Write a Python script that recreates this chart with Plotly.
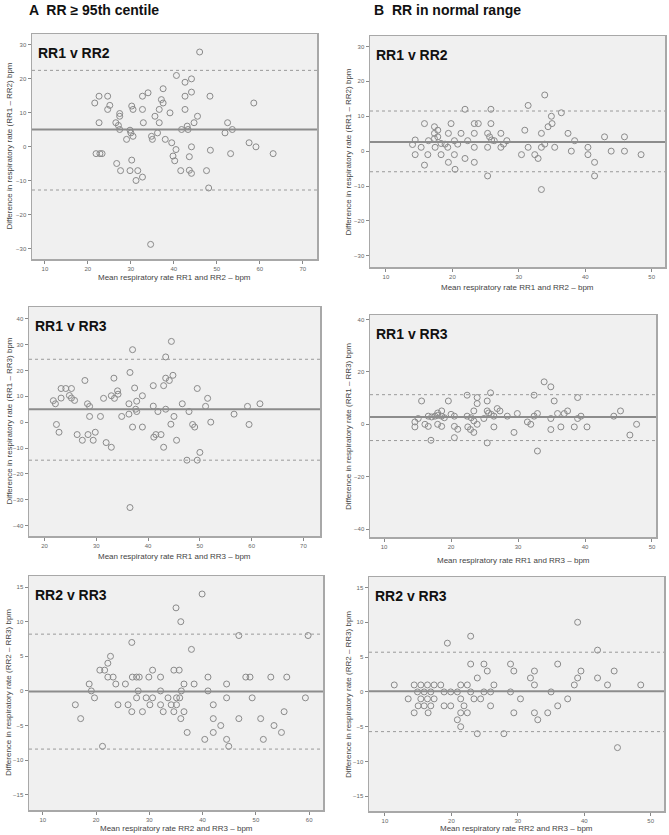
import plotly.graph_objects as go

W, H = 669, 835

# ---------------- data ----------------
# Panel A1: RR >= 95th centile, RR1 v RR2
a1_mean = [21.6, 22.6, 22.6, 21.9, 22.8, 23.3, 24.6, 24.6, 25.1, 26.5, 27.1, 27.4, 27.4, 27.4, 26.7, 27.6,
           29.0, 29.8, 30.0, 30.2, 30.5, 30.2, 29.8, 30.5, 31.2, 31.6, 32.7, 32.7, 32.9, 32.7, 34.0, 34.8,
           35.0, 35.6, 36.6, 36.6, 36.2, 37.1, 37.5, 37.5, 38.0, 39.1, 39.5, 39.8, 40.2, 40.5, 40.6, 41.8,
           41.6, 42.6, 42.6, 42.6, 43.1, 43.3, 43.6, 43.6, 44.1, 44.1, 44.1, 44.1, 44.7, 45.5, 46.0, 47.6,
           48.4, 48.5, 48.1, 51.9, 52.5, 53.2, 53.6, 57.5, 58.6, 59.1, 63.1, 34.6]
a1_diff = [12.9, 14.9, 7.1, -2.0, -2.0, -2.0, 14.9, 11.0, 12.2, 7.1, 6.3, 9.8, 9.0, 5.1, -4.9, -7.0,
           2.2, 4.9, 4.1, 12.0, 11.0, -3.9, -7.0, 3.1, -9.9, -7.0, 14.9, 11.0, 7.1, -8.9, 15.9, 3.1,
           2.2, 9.0, 11.0, 7.1, 4.1, 13.9, 12.9, 17.1, 2.2, 10.0, 1.2, -2.7, -4.1, -0.8, 21.0, 5.1,
           -7.0, 19.0, 14.9, 11.0, 6.1, 5.1, -2.9, -6.9, -7.8, 20.0, 16.1, 0.0, 7.1, 9.0, 27.9, -7.0,
           14.9, -1.0, -12.1, 4.1, 7.1, -2.0, 5.1, 1.2, 12.9, 0.0, -2.0, -28.7]
a1_lines = [5.1, 22.5, -12.7]  # mean difference, upper and lower limits of agreement

# Panel B1: RR in normal range, RR1 v RR2
b1_mean = [14.0, 14.4, 14.4, 15.3, 15.8, 15.8, 16.3, 16.4, 17.3, 17.3, 17.3, 17.4, 17.8, 17.8, 18.3, 18.3,
           18.9, 19.3, 19.4, 19.4, 19.8, 20.3, 20.3, 20.4, 20.8, 21.3, 21.9, 21.9, 22.3, 23.3, 23.3, 23.3,
           23.3, 23.9, 25.3, 25.3, 25.3, 25.6, 25.8, 25.8, 25.9, 26.3, 27.3, 27.3, 27.7, 28.2, 30.4, 30.9,
           31.4, 31.4, 32.4, 32.9, 33.4, 33.4, 33.4, 33.9, 33.9, 34.4, 34.9, 35.0, 35.4, 36.4, 37.4, 37.9,
           38.4, 40.4, 40.4, 41.4, 41.4, 42.9, 43.9, 45.9, 45.9, 48.4]
b1_diff = [1.9, 3.2, -1.0, 1.1, 7.9, -4.0, -1.0, 3.0, 7.0, 5.1, 3.6, 1.1, 6.0, 4.1, 2.2, -1.0,
           2.0, 1.1, 5.1, -3.2, 7.9, -1.0, 3.0, -5.2, 2.0, 5.1, -2.1, 12.0, 3.0, 7.9, 5.1, 1.1,
           -3.2, 7.9, 5.1, 1.1, -7.1, 4.1, 12.0, 7.9, 3.2, 3.0, 5.1, 1.1, 2.0, 3.0, -1.0, 6.0,
           13.1, 1.1, -1.0, -2.1, 5.1, 1.1, -11.0, 16.1, 2.0, 7.0, 10.0, 7.9, 1.1, 11.0, 5.1, 0.0,
           3.0, 1.1, -1.0, -3.2, -7.1, 4.1, 0.0, 4.1, 0.0, -1.0]
b1_lines = [2.6, 11.5, -5.9]

# Panel A2: RR >= 95th centile, RR1 v RR3
a2_mean = [21.7, 22.1, 22.3, 22.8, 23.2, 23.2, 24.1, 25.2, 24.8, 25.2, 25.8, 26.3, 27.3, 27.8, 28.3, 28.4,
           28.7, 28.7, 29.4, 29.8, 30.8, 31.4, 31.9, 32.9, 32.9, 33.4, 33.5, 34.1, 34.2, 34.9, 36.3, 36.3,
           36.5, 36.5, 37.0, 37.0, 37.4, 37.6, 37.8, 37.8, 38.9, 38.9, 41.0, 41.0, 41.1, 41.5, 41.9, 42.5,
           43.0, 43.0, 43.4, 43.4, 43.4, 44.1, 44.4, 44.5, 44.8, 45.0, 45.5, 46.6, 47.5, 47.9, 48.6, 49.0,
           49.5, 49.5, 50.0, 51.1, 51.5, 52.1, 56.6, 59.2, 59.5, 61.6]
a2_diff = [8.3, 7.1, -0.9, -3.9, 9.3, 13.0, 13.0, 13.0, 10.3, 9.3, 8.4, -4.8, -7.0, 16.1, 7.1, -4.8,
           6.1, 2.2, -7.0, -3.9, 2.2, 9.2, -7.9, -9.7, 10.2, 17.0, 9.2, 12.1, 10.8, 2.2, 7.1, 3.1,
           19.2, -33.0, 28.0, -1.9, 13.2, 5.0, 4.1, 8.1, -1.9, 10.2, 14.1, 6.2, -5.8, -4.8, 4.1, -4.8,
           14.1, -9.7, 25.2, 17.0, 5.0, 16.1, -0.8, 31.2, 18.1, 2.2, -7.0, 7.1, -14.7, 4.1, -0.9, -1.9,
           13.0, -14.7, -11.7, 6.1, 9.2, 0.0, 3.1, 6.1, -0.9, 7.1]
a2_lines = [5.0, 24.3, -14.7]

# Panel B2: RR in normal range, RR1 v RR3
b2_mean = [14.6, 14.6, 15.1, 15.6, 16.1, 16.6, 16.6, 17.0, 17.1, 17.6, 18.0, 18.0, 18.0, 18.6, 18.6, 18.6,
           19.0, 19.6, 20.0, 20.5, 20.5, 20.5, 21.0, 22.4, 22.4, 22.5, 22.9, 23.0, 23.4, 23.4, 23.9, 23.9,
           23.9, 23.4, 24.9, 25.4, 25.4, 25.4, 25.6, 25.9, 26.0, 26.4, 26.4, 26.9, 27.3, 28.4, 29.4, 29.9,
           31.4, 31.9, 32.4, 32.4, 32.9, 32.9, 33.9, 34.9, 34.9, 34.9, 35.4, 35.9, 36.4, 36.9, 37.4, 38.4,
           38.9, 38.9, 39.4, 40.3, 44.3, 45.3, 46.7, 47.7]
b2_diff = [-1.0, 0.9, 2.2, 8.9, 0.0, -0.8, 3.1, -6.1, 2.8, 3.1, 3.4, 0.0, 4.3, 5.1, -0.8, 3.1,
           2.5, 8.9, 3.8, 3.1, -0.8, -5.1, -1.9, 11.1, 3.1, -1.0, -2.0, 2.5, 5.1, -3.1, 10.2, 7.9,
           0.0, 1.3, 2.2, 8.9, 5.1, -7.1, 4.3, 12.0, 3.8, 3.1, -1.0, 6.0, 5.1, 3.1, -3.1, 4.1,
           0.9, 0.0, 11.1, 3.1, 4.1, -10.2, 16.2, 14.3, 2.2, -2.0, 8.9, 4.1, -1.0, 4.1, 5.1, -1.0,
           10.2, 2.2, 3.1, -1.0, 3.1, 5.1, -4.1, 0.0]
b2_lines = [2.8, 11.3, -6.2]

# Panel A3: RR >= 95th centile, RR2 v RR3
a3_mean = [16.1, 17.1, 18.7, 19.1, 19.7, 20.7, 21.6, 21.2, 22.2, 22.7, 22.2, 23.2, 23.7, 24.1, 25.5, 26.0,
           26.7, 26.7, 26.8, 27.6, 28.1, 27.6, 27.9, 28.7, 29.4, 29.9, 30.1, 30.6, 30.6, 32.1, 32.1, 32.1,
           32.6, 33.5, 34.1, 34.6, 34.6, 35.0, 35.1, 35.6, 35.7, 35.1, 35.9, 36.0, 35.9, 36.5, 36.5, 37.1,
           37.9, 38.4, 39.9, 40.4, 41.0, 41.0, 42.0, 42.0, 42.0, 43.4, 44.5, 44.5, 44.5, 44.9, 46.8, 46.8,
           48.1, 48.9, 49.3, 50.9, 51.4, 52.8, 53.4, 54.8, 55.3, 55.8, 59.3, 59.8]
a3_diff = [-2, -4, 1, 0, -1, 3, 3, -8, 4, 5, 2, 2, 1, -2, 1, -2,
           7, -3, 2, 2, 2, -1, 0, -3, -1, 2, -2, 3, -1, 2, 0, -2,
           -3, -1, -2, 3, -3, 12, -1, 3, -1, -2, 10, 0, -4, 1, -3, -6,
           6, 1, 14, -7, 2, 0, -2, -4, -6, -5, 1, -1, -7, -8, 8, -4,
           2, 2, -1, -4, -7, 2, -5, -6, -3, 2, -1, 8]
a3_lines = [-0.1, 8.2, -8.4]

# Panel B3: RR in normal range, RR2 v RR3
b3_mean = [11.4, 13.5, 14.4, 14.4, 14.9, 15.0, 15.4, 15.4, 15.9, 15.9, 16.4, 16.4, 16.5, 16.9, 16.9, 17.4,
           17.4, 18.4, 18.9, 18.9, 19.4, 19.9, 19.9, 20.9, 20.9, 21.4, 21.4, 21.4, 21.4, 21.9, 22.4, 22.4,
           22.9, 22.9, 22.9, 23.4, 23.9, 23.9, 24.4, 24.9, 24.9, 25.4, 25.9, 25.9, 26.4, 27.9, 28.9, 28.9,
           29.4, 29.4, 30.4, 31.9, 32.5, 32.5, 32.5, 33.0, 34.5, 35.0, 36.0, 36.0, 37.5, 38.5, 39.0, 39.0,
           39.5, 42.0, 42.0, 43.5, 44.5, 45.0, 48.5]
b3_diff = [1, -1, -3, 1, 0, -2, 1, -1, 0, -2, 1, -1, -3, 0, -2, 1,
           -1, 1, 0, -2, 7, 0, -2, 0, -4, -5, 1, -1, -3, -2, 1, -3,
           8, 4, 0, -1, 2, -6, -1, 4, 0, 3, 0, -2, 1, -6, 4, 0,
           3, -3, -1, 2, 3, 1, -3, -4, -3, 0, 4, -2, -1, 1, 2, 10,
           3, 6, 2, 1, 3, -8, 1]
b3_lines = [0.1, 5.7, -5.7]

group_titles = ["A  RR \u2265 95th centile", "B  RR in normal range"]
panel_labels = ["RR1 v RR2", "RR1 v RR2", "RR1 v RR3", "RR1 v RR3", "RR2 v RR3", "RR2 v RR3"]
x_titles = ["Mean respiratory rate RR1 and RR2 \u2013 bpm", "Mean respiratory rate RR1 and RR2 \u2013 bpm",
            "Mean respiratory rate RR1 and RR3 \u2013 bpm", "Mean respiratory rate RR1 and RR3 \u2013 bpm",
            "Mean respiratory rate RR2 and RR3 \u2013 bpm", "Mean respiratory rate RR2 and RR3 \u2013 bpm"]
y_titles = ["Difference in respiratory rate (RR1 \u2013 RR2) bpm", "Difference in respiratory rate (RR1 \u2013 RR2) bpm",
            "Difference in respiratory rate (RR1 \u2013 RR3) bpm", "Difference in respiratory rate (RR1 \u2013 RR3) bpm",
            "Difference in respiratory rate (RR2 \u2013 RR3) bpm", "Difference in respiratory rate (RR2 \u2013 RR3) bpm"]

# ---------------- layout geometry (pixels) ----------------
panels = [
    dict(x=a1_mean, y=a1_diff, lines=a1_lines, box=(32, 34, 317, 259), xr=[7, 73.3], yr=[-33, 33.2],
         xt=[10, 20, 30, 40, 50, 60, 70], yt=[-30, -20, -10, 0, 10, 20, 30], ytx=9, xty=277),
    dict(x=b1_mean, y=b1_diff, lines=b1_lines, box=(370, 36, 665, 267), xr=[7.6, 52], yr=[-33.2, 33],
         xt=[10, 20, 30, 40, 50], yt=[-30, -20, -10, 0, 10, 20, 30], ytx=348, xty=287),
    dict(x=a2_mean, y=a2_diff, lines=a2_lines, box=(29, 307, 320, 536), xr=[17, 73.2], yr=[-44, 44.5],
         xt=[20, 30, 40, 50, 60, 70], yt=[-40, -30, -20, -10, 0, 10, 20, 30, 40], ytx=9, xty=556),
    dict(x=b2_mean, y=b2_diff, lines=b2_lines, box=(370, 315, 656, 537), xr=[7.9, 50.6], yr=[-43, 41.7],
         xt=[10, 20, 30, 40, 50], yt=[-40, -20, 0, 20, 40], ytx=348, xty=560),
    dict(x=a3_mean, y=a3_diff, lines=a3_lines, box=(29, 576, 323, 810), xr=[7.4, 62.6], yr=[-17.2, 16.6],
         xt=[10, 20, 30, 40, 50, 60], yt=[-15, -10, -5, 0, 5, 10, 15], ytx=8, xty=828),
    dict(x=b3_mean, y=b3_diff, lines=b3_lines, box=(369, 577, 664, 811), xr=[7.6, 52], yr=[-17.1, 16.5],
         xt=[10, 20, 30, 40, 50], yt=[-15, -10, -5, 0, 5, 10, 15], ytx=348, xty=828),
]

FONT = "Liberation Sans, Arial, sans-serif"
fig = go.Figure()
layout = dict(width=W, height=H, margin=dict(l=0, r=0, t=0, b=0), paper_bgcolor="white",
              plot_bgcolor="#f0f0f0", showlegend=False, font=dict(family=FONT))
shapes, annotations = [], []

for i, p in enumerate(panels):
    n = "" if i == 0 else str(i + 1)
    x0, y0, x1, y1 = p["box"]
    fig.add_trace(go.Scatter(x=p["x"], y=p["y"], mode="markers", xaxis="x" + n, yaxis="y" + n,
                             marker=dict(symbol="circle-open", size=6, color="#8a8a8a",
                                         line=dict(width=1, color="#8a8a8a")),
                             hoverinfo="skip"))
    axcommon = dict(showgrid=False, zeroline=False, showline=True, linecolor="#a8a8a8", linewidth=1.5,
                    mirror=True, ticks="outside", ticklen=3, tickcolor="#888", tickwidth=1,
                    tickfont=dict(size=6, color="#666", family=FONT))
    layout["xaxis" + n] = dict(axcommon, domain=[x0 / W, x1 / W], range=p["xr"], tickvals=p["xt"],
                               anchor="y" + n)
    layout["yaxis" + n] = dict(axcommon, domain=[1 - y1 / H, 1 - y0 / H], range=p["yr"], tickvals=p["yt"],
                               anchor="x" + n)
    mean, up, lo = p["lines"]
    shapes.append(dict(type="line", xref="x" + n + " domain", yref="y" + n, x0=0, x1=1, y0=mean, y1=mean,
                       line=dict(color="#8c8c8c", width=2)))
    for v in (up, lo):
        shapes.append(dict(type="line", xref="x" + n + " domain", yref="y" + n, x0=0, x1=1, y0=v, y1=v,
                           line=dict(color="#9a9a9a", width=1, dash="dot")))
    annotations.append(dict(text="<b>" + panel_labels[i] + "</b>", xref="paper", yref="paper",
                            x=(x0 + 4) / W, y=1 - (y0 + 19) / H, xanchor="left", yanchor="middle",
                            showarrow=False, font=dict(size=14, color="#111", family=FONT)))
    annotations.append(dict(text=x_titles[i], xref="paper", yref="paper",
                            x=((x0 + x1) / 2) / W, y=1 - p["xty"] / H, xanchor="center", yanchor="middle",
                            showarrow=False, font=dict(size=8, color="#444", family=FONT)))
    annotations.append(dict(text=y_titles[i], xref="paper", yref="paper", textangle=-90,
                            x=p["ytx"] / W, y=1 - ((y0 + y1) / 2) / H, xanchor="center", yanchor="middle",
                            showarrow=False, font=dict(size=8, color="#444", family=FONT)))

for t, px in zip(group_titles, (27, 372)):
    annotations.append(dict(text="<b>" + t + "</b>", xref="paper", yref="paper", x=px / W, y=1 - 10 / H,
                            xanchor="left", yanchor="middle", showarrow=False,
                            font=dict(size=14, color="#111", family=FONT)))

layout["shapes"] = shapes
layout["annotations"] = annotations
fig.update_layout(**layout)
fig.write_html("out.html", config={"displayModeBar": False, "staticPlot": True},
               post_script="document.body.style.margin='0';document.body.style.overflow='hidden';")
